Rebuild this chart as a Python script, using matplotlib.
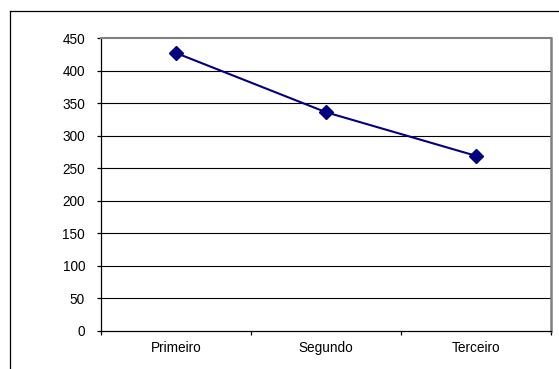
import matplotlib
matplotlib.use("Agg")
import matplotlib.pyplot as plt
from matplotlib.lines import Line2D

categories = ["Primeiro", "Segundo", "Terceiro"]
values = [427, 336, 269]
yticks = [0, 50, 100, 150, 200, 250, 300, 350, 400, 450]

plt.rcParams['font.family'] = ['Liberation Sans', 'DejaVu Sans']

W, H = 559, 369
fig = plt.figure(figsize=(W / 100, H / 100), dpi=100)
fig.patch.set_facecolor('white')

# outer chart border (top and left visible)
fig.add_artist(Line2D([10 / W, 10 / W], [0, 1 - 11 / H], transform=fig.transFigure,
                      color='black', lw=0.9))
fig.add_artist(Line2D([10 / W, 1], [1 - 11 / H, 1 - 11 / H], transform=fig.transFigure,
                      color='black', lw=0.9))

ax = fig.add_axes([101 / W, 1 - 331 / H, 450 / W, 293 / H])
x = list(range(len(categories)))
ax.set_xlim(-0.5, len(categories) - 0.5)
ax.set_ylim(0, 450)
ax.set_yticks(yticks)
ax.set_yticklabels([str(v) for v in yticks])

for v in yticks[1:-1]:
    ax.axhline(v, color='black', lw=0.8, zorder=1)

ax.plot(x, values, color='#000080', lw=1.5, marker='D', markersize=7,
        markerfacecolor='#000080', markeredgecolor='#000080', zorder=3, clip_on=False)

ax.spines['top'].set_color('#808080')
ax.spines['top'].set_linewidth(1.5)
ax.spines['right'].set_color('#808080')
ax.spines['right'].set_linewidth(1.8)
ax.spines['left'].set_color('black')
ax.spines['left'].set_linewidth(0.9)
ax.spines['bottom'].set_color('black')
ax.spines['bottom'].set_linewidth(0.9)

# category labels at centres, tick marks at boundaries
ax.set_xticks(x)
ax.set_xticklabels(categories)
ax.set_xticks([i - 0.5 for i in range(len(categories) + 1)], minor=True)
ax.tick_params(axis='x', which='major', length=0, pad=7, labelsize=9.8)
ax.tick_params(axis='x', which='minor', length=3, width=0.9, direction='out',
               color='black', labelbottom=False)
ax.tick_params(axis='y', length=3, width=0.9, direction='out', pad=8.5, labelsize=9.8)

fig.savefig('out.png', dpi=100)
